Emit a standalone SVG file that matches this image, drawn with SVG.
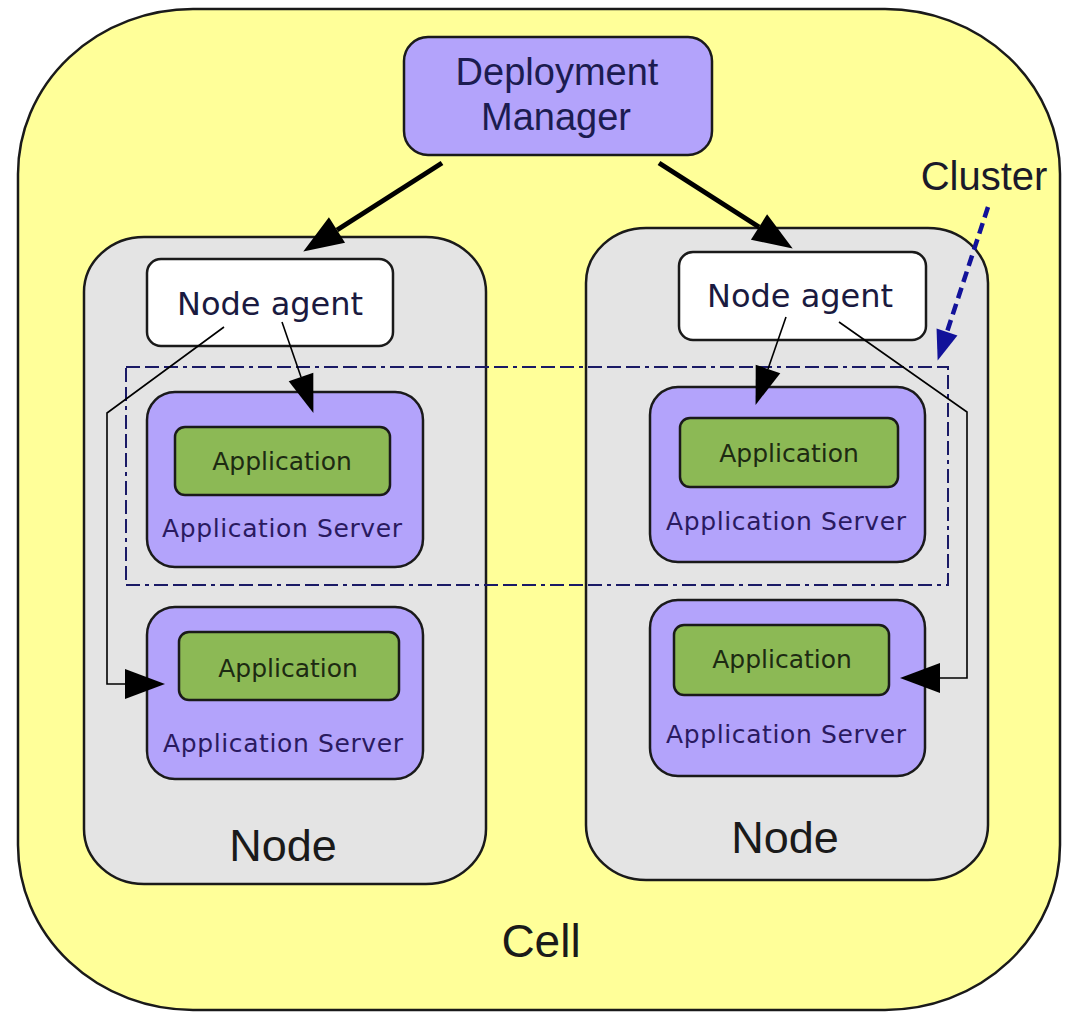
<svg xmlns="http://www.w3.org/2000/svg" width="1066" height="1013" viewBox="0 0 1066 1013">
<defs>
<style>
.cell{fill:#ffff99;stroke:#1a1a1a;stroke-width:2.5}
.node{fill:#e4e4e4;stroke:#1a1a1a;stroke-width:2.5}
.agent{fill:#ffffff;stroke:#1a1a1a;stroke-width:2.5}
.purple{fill:#b3a3fb;stroke:#1a1a1a;stroke-width:2.5}
.green{fill:#8cb955;stroke:#1a1a1a;stroke-width:2.5}
.big{font-family:"Liberation Sans",Arial,sans-serif;text-anchor:middle}
.small{font-family:"DejaVu Sans",Verdana,sans-serif;text-anchor:middle}
.thick{fill:none;stroke:#000;stroke-width:5}
.thin{fill:none;stroke:#000;stroke-width:1.6}
.cl{fill:none;stroke:#1a1a66;stroke-width:2;stroke-dasharray:14 5 14 5 14 5 4 5}
.blue{fill:none;stroke:#12129a;stroke-width:4.5;stroke-dasharray:11 6}
</style>
<marker id="bigHead" markerUnits="userSpaceOnUse" markerWidth="42" markerHeight="32" refX="0" refY="15" orient="auto" overflow="visible"><path d="M0,0 L40,15 L0,30 z" fill="#000"/></marker>
<marker id="thinHead" markerUnits="userSpaceOnUse" markerWidth="40" markerHeight="28" refX="0" refY="13" orient="auto" overflow="visible"><path d="M0,0 L38,13 L0,26 z" fill="#000"/></marker>
<marker id="blueHead" markerUnits="userSpaceOnUse" markerWidth="32" markerHeight="24" refX="0" refY="11" orient="auto" overflow="visible"><path d="M0,0 L30,11 L0,22 z" fill="#12129a"/></marker>
</defs>

<g id="cell">
<rect class="cell" x="18" y="9" width="1042" height="1001" rx="175" ry="165"/>
<text class="big" x="541" y="957" font-size="46" fill="#1a1a1a">Cell</text>
</g>

<g id="deployment-manager">
<rect class="purple" x="404" y="37" width="308" height="118" rx="24"/>
<text class="big" x="557" y="85" font-size="38" fill="#1c1c50">Deployment</text>
<text class="big" x="556" y="130" font-size="38" fill="#1c1c50">Manager</text>
</g>

<g id="node-left">
<rect class="node" x="84" y="237" width="402" height="647" rx="60" ry="55"/>
<text class="big" x="283" y="861" font-size="45" fill="#1a1a1a">Node</text>
</g>
<g id="node-right">
<rect class="node" x="586" y="228" width="402" height="652" rx="60" ry="55"/>
<text class="big" x="785" y="853" font-size="45" fill="#1a1a1a">Node</text>
</g>

<g id="agent-left">
<rect class="agent" x="147" y="259" width="246" height="87" rx="14"/>
<text class="small" x="270" y="315" font-size="32" fill="#1a1a40">Node agent</text>
</g>
<g id="agent-right">
<rect class="agent" x="679" y="252" width="247" height="88" rx="14"/>
<text class="small" x="800" y="307" font-size="32" fill="#1a1a40">Node agent</text>
</g>

<g id="server-left-top">
<rect class="purple" x="147" y="392" width="276" height="175" rx="28"/>
<text class="small" x="282" y="537" font-size="25" fill="#2a1a60" textLength="240" lengthAdjust="spacing">Application Server</text>
</g>
<g id="app-left-top">
<rect class="green" x="175" y="427" width="215" height="68" rx="10"/>
<text class="small" x="282" y="470" font-size="25" fill="#1d2a12">Application</text>
</g>

<g id="server-left-bottom">
<rect class="purple" x="147" y="607" width="276" height="172" rx="28"/>
<text class="small" x="283" y="752" font-size="25" fill="#2a1a60" textLength="240" lengthAdjust="spacing">Application Server</text>
</g>
<g id="app-left-bottom">
<rect class="green" x="179" y="632" width="220" height="68" rx="10"/>
<text class="small" x="288" y="677" font-size="25" fill="#1d2a12">Application</text>
</g>

<g id="server-right-top">
<rect class="purple" x="650" y="387" width="275" height="175" rx="28"/>
<text class="small" x="786" y="530" font-size="25" fill="#2a1a60" textLength="240" lengthAdjust="spacing">Application Server</text>
</g>
<g id="app-right-top">
<rect class="green" x="680" y="418" width="218" height="69" rx="10"/>
<text class="small" x="789" y="462" font-size="25" fill="#1d2a12">Application</text>
</g>

<g id="server-right-bottom">
<rect class="purple" x="650" y="600" width="275" height="176" rx="28"/>
<text class="small" x="786" y="743" font-size="25" fill="#2a1a60" textLength="240" lengthAdjust="spacing">Application Server</text>
</g>
<g id="app-right-bottom">
<rect class="green" x="674" y="625" width="215" height="70" rx="10"/>
<text class="small" x="782" y="668" font-size="25" fill="#1d2a12">Application</text>
</g>

<g id="cluster">
<rect class="cl" x="126" y="367" width="822" height="218"/>
<text class="big" x="984" y="190" font-size="40" fill="#1a1a2a">Cluster</text>
</g>

<g id="connectors">
<path class="thick" d="M442,163 L337,230" marker-end="url(#bigHead)"/>
<path class="thick" d="M659,163 L759,227" marker-end="url(#bigHead)"/>
<path class="thin" d="M282,322 L301,377" marker-end="url(#thinHead)"/>
<path class="thin" d="M224,327 L107,413 L107,684 L125,684" marker-end="url(#bigHead)"/>
<path class="thin" d="M786,317 L768,369" marker-end="url(#thinHead)"/>
<path class="thin" d="M839,322 L967,412 L967,678 L940,678" marker-end="url(#bigHead)"/>
<path class="blue" d="M988,207 L947,332" marker-end="url(#blueHead)"/>
</g>
</svg>
